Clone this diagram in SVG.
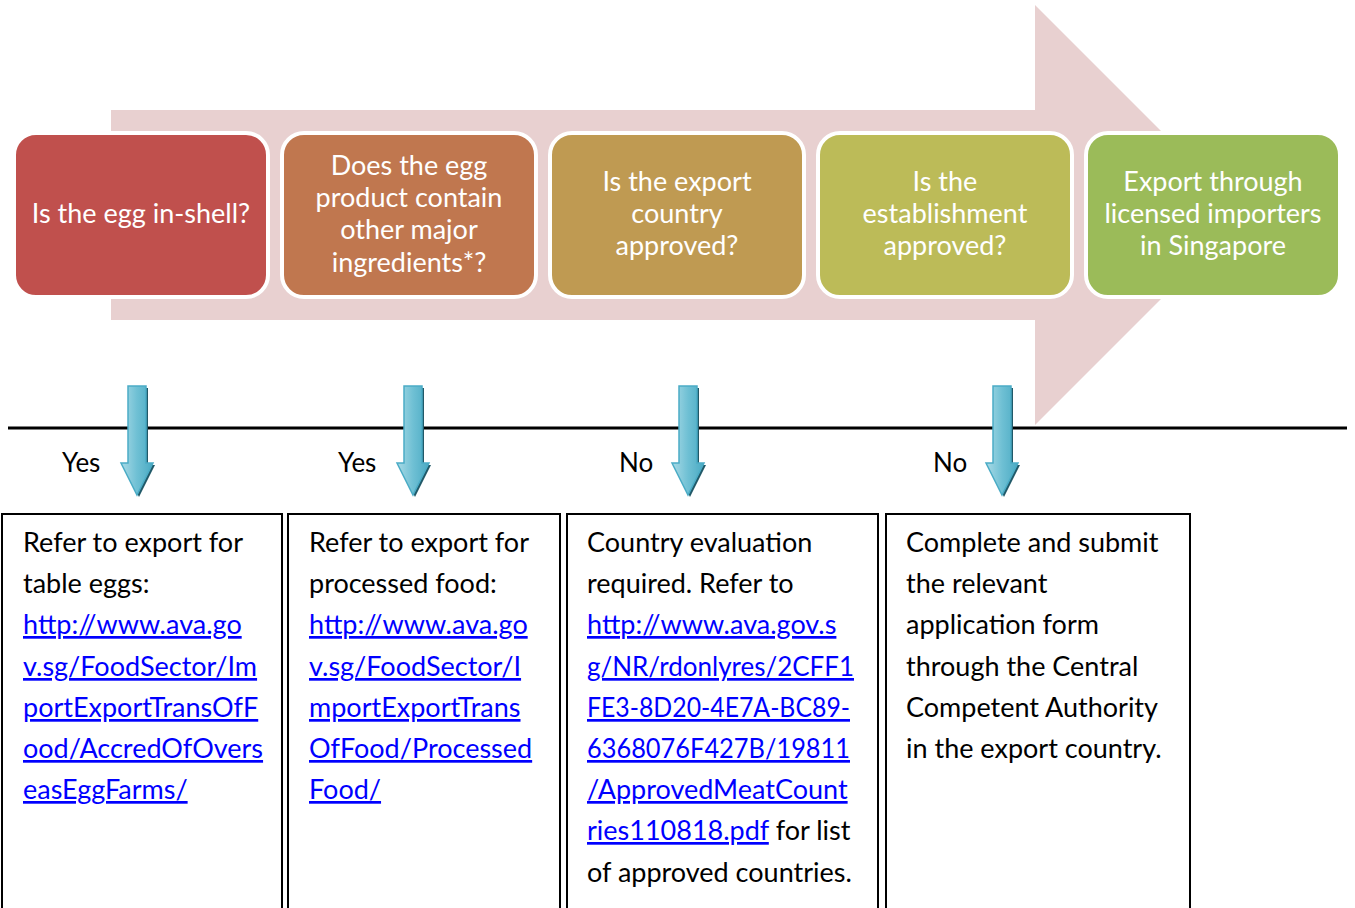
<svg xmlns="http://www.w3.org/2000/svg" width="1355" height="908" viewBox="0 0 1355 908">
<defs>
<style>
.step{stroke:#fff;stroke-width:4}
.st{font-family:Lato,"Liberation Sans",sans-serif;font-size:27px;fill:#fff;text-anchor:middle}
.lab{font-family:Lato,"Liberation Sans",sans-serif;font-size:26px;fill:#000}
.box{fill:#fff;stroke:#000;stroke-width:2}
.bt{font-family:Lato,"Liberation Sans",sans-serif;font-size:27px;fill:#000}
.ln{fill:#0000FF;text-decoration:underline}
</style>
<linearGradient id="bg" x1="0" y1="0" x2="1" y2="0">
<stop offset="0" stop-color="#A9DAE6"/>
<stop offset="0.5" stop-color="#6FC0D4"/>
<stop offset="1" stop-color="#4AAAC3"/>
</linearGradient>
<path id="darr" d="M-9,0 H9 V77 H16 L0,109 L-16,77 H-9 Z"/>
</defs>
<g id="big-arrow">
<path d="M111,110 H1035 V5 L1245,215 L1035,425 V320 H111 Z" fill="#E8D0D0"/>
</g>
<g id="n1"><rect class="step" x="14" y="133" width="254" height="164" rx="22" fill="#C0504D"/>
<text class="st" x="141" y="223">Is the egg in-shell?</text></g>
<g id="n2"><rect class="step" x="282" y="133" width="254" height="164" rx="22" fill="#C0774F"/>
<text class="st" x="409" y="175">Does the egg</text><text class="st" x="409" y="207">product contain</text><text class="st" x="409" y="239">other  major</text><text class="st" x="409" y="272">ingredients*?</text></g>
<g id="n3"><rect class="step" x="550" y="133" width="254" height="164" rx="22" fill="#BF9A52"/>
<text class="st" x="677" y="191">Is the export</text><text class="st" x="677" y="223">country</text><text class="st" x="677" y="255">approved?</text></g>
<g id="n4"><rect class="step" x="818" y="133" width="254" height="164" rx="22" fill="#BCBB58"/>
<text class="st" x="945" y="191">Is the</text><text class="st" x="945" y="223">establishment</text><text class="st" x="945" y="255">approved?</text></g>
<g id="n5"><rect class="step" x="1086" y="133" width="254" height="164" rx="22" fill="#9BBB59"/>
<text class="st" x="1213" y="191">Export through</text><text class="st" x="1213" y="223">licensed importers</text><text class="st" x="1213" y="255">in Singapore</text></g>
<g id="connectors">
<line x1="8" y1="428" x2="1347" y2="428" stroke="#000" stroke-width="3"/>
<g transform="translate(137,386)"><use href="#darr" transform="translate(2,2)" fill="#215968"/><use href="#darr" fill="url(#bg)" stroke="#4BACC6" stroke-width="1.5"/></g>
<g transform="translate(413,386)"><use href="#darr" transform="translate(2,2)" fill="#215968"/><use href="#darr" fill="url(#bg)" stroke="#4BACC6" stroke-width="1.5"/></g>
<g transform="translate(688,386)"><use href="#darr" transform="translate(2,2)" fill="#215968"/><use href="#darr" fill="url(#bg)" stroke="#4BACC6" stroke-width="1.5"/></g>
<g transform="translate(1002,386)"><use href="#darr" transform="translate(2,2)" fill="#215968"/><use href="#darr" fill="url(#bg)" stroke="#4BACC6" stroke-width="1.5"/></g>
<text class="lab" x="62" y="472">Yes</text>
<text class="lab" x="338" y="472">Yes</text>
<text class="lab" x="619" y="472">No</text>
<text class="lab" x="933" y="472">No</text>
</g>
<g id="r1"><rect class="box" x="2" y="514" width="280" height="400"/>
<text class="bt"><tspan x="23" y="552">Refer to export for</tspan><tspan x="23" y="593">table eggs:</tspan><tspan class="ln" x="23" y="634">http://www.ava.go</tspan><tspan class="ln" x="23" y="676">v.sg/FoodSector/Im</tspan><tspan class="ln" x="23" y="717">portExportTransOfF</tspan><tspan class="ln" x="23" y="758">ood/AccredOfOvers</tspan><tspan class="ln" x="23" y="799">easEggFarms/</tspan></text></g>
<g id="r2"><rect class="box" x="288" y="514" width="272" height="400"/>
<text class="bt"><tspan x="309" y="552">Refer to export for</tspan><tspan x="309" y="593">processed food:</tspan><tspan class="ln" x="309" y="634">http://www.ava.go</tspan><tspan class="ln" x="309" y="676">v.sg/FoodSector/I</tspan><tspan class="ln" x="309" y="717">mportExportTrans</tspan><tspan class="ln" x="309" y="758">OfFood/Processed</tspan><tspan class="ln" x="309" y="799">Food/</tspan></text></g>
<g id="r3"><rect class="box" x="567" y="514" width="311" height="400"/>
<text class="bt" x="587" y="552">Country evaluation</text>
<text class="bt" x="587" y="593">required. Refer to</text>
<text class="bt ln" x="587" y="634">http://www.ava.gov.s</text>
<text class="bt ln" x="587" y="676" textLength="267" lengthAdjust="spacingAndGlyphs">g/NR/rdonlyres/2CFF1</text>
<text class="bt ln" x="587" y="717" textLength="263" lengthAdjust="spacingAndGlyphs">FE3-8D20-4E7A-BC89-</text>
<text class="bt ln" x="587" y="758" textLength="263" lengthAdjust="spacingAndGlyphs">6368076F427B/19811</text>
<text class="bt ln" x="587" y="799">/ApprovedMeatCount</text>
<text class="bt" x="587" y="840"><tspan class="ln">ries110818.pdf</tspan> for list</text>
<text class="bt" x="587" y="882">of approved countries.</text></g>
<g id="r4"><rect class="box" x="886" y="514" width="304" height="400"/>
<text class="bt"><tspan x="906" y="552">Complete and submit</tspan><tspan x="906" y="593">the relevant</tspan><tspan x="906" y="634">application form</tspan><tspan x="906" y="676">through the Central</tspan><tspan x="906" y="717">Competent Authority</tspan><tspan x="906" y="758">in the export country.</tspan></text></g>
</svg>
